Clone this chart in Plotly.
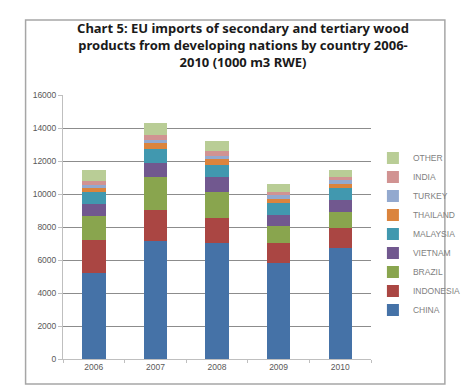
import plotly.graph_objects as go

years = ["2006", "2007", "2008", "2009", "2010"]
series_names = ["CHINA", "INDONESIA", "BRAZIL", "VIETNAM", "MALAYSIA",
                "THAILAND", "TURKEY", "INDIA", "OTHER"]
china = [5210, 7170, 7030, 5820, 6730]
indonesia = [2030, 1880, 1530, 1210, 1210]
brazil = [1450, 1980, 1560, 1050, 990]
vietnam = [710, 850, 890, 670, 730]
malaysia = [710, 850, 760, 710, 710]
thailand = [300, 360, 350, 240, 260]
turkey = [120, 200, 200, 220, 240]
india = [280, 290, 300, 200, 160]
other = [650, 730, 590, 490, 430]
y_ticks = [0, 2000, 4000, 6000, 8000, 10000, 12000, 14000, 16000]

values = [china, indonesia, brazil, vietnam, malaysia, thailand, turkey, india, other]
colors = ["#4572A7", "#AA4643", "#89A54E", "#71588F", "#4198AF",
          "#DB843D", "#93A9CF", "#D19392", "#B9CD96"]

W, H = 470, 389
L, R, T, B = 55, 94, 87, 38
pw, ph = W - L - R, H - T - B

def px_x(x):
    return (x - L) / pw

def px_y(y):
    return (H - B - y) / ph

fig = go.Figure()
for name, vals, col in zip(series_names, values, colors):
    fig.add_trace(go.Bar(x=years, y=vals, name=name, marker_color=col,
                         marker_line_width=0))

fig.update_layout(
    width=W, height=H,
    barmode="stack", bargap=0.62,
    margin=dict(l=L, r=R, t=T, b=B),
    paper_bgcolor="white", plot_bgcolor="white",
    font=dict(family="Liberation Sans, Arial, sans-serif", color="#595959"),
    title=dict(
        text="Chart 5: EU imports of secondary and tertiary wood<br>"
             "products from developing nations by country 2006-<br>"
             "2010 (1000 m3 RWE)",
        x=0.5, xref="container", xanchor="center",
        y=1 - 25 / H, yref="container", yanchor="top",
        font=dict(family="Noto Sans, sans-serif", size=13, color="#1a1a1a",
                  weight="bold"),
    ),
    xaxis=dict(
        type="category", tickson="boundaries", ticks="outside", ticklen=3,
        tickcolor="#bfbfbf", showline=True, linecolor="#bfbfbf",
        tickfont=dict(size=8.5, color="#595959"), showgrid=False,
    ),
    yaxis=dict(
        range=[0, 16000], tickvals=y_ticks, ticktext=[str(v) for v in y_ticks],
        ticks="outside", ticklen=4,
        tickcolor="#bfbfbf", showline=True, linecolor="#bfbfbf",
        gridcolor="#8c8c8c", gridwidth=1, zeroline=False,
        tickfont=dict(size=8.5, color="#595959"),
    ),
    legend=dict(
        traceorder="reversed", x=px_x(378), xanchor="left",
        y=px_y(226), yanchor="middle", font=dict(size=8.5, color="#7f7f7f"),
        bgcolor="rgba(0,0,0,0)", itemwidth=30,
    ),
    shapes=[dict(type="rect", xref="paper", yref="paper",
                 x0=px_x(16), x1=px_x(453), y0=px_y(376), y1=px_y(12),
                 line=dict(color="#a6a6a6", width=1.5), layer="below")],
)

fig.write_html("out.html")
